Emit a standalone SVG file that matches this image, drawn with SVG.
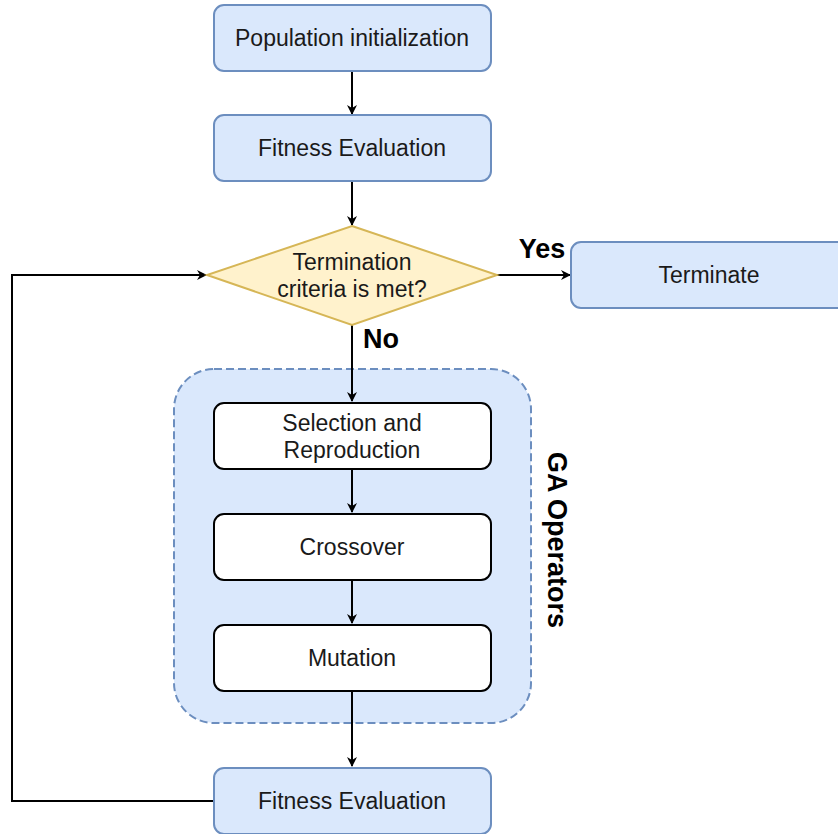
<svg xmlns="http://www.w3.org/2000/svg" width="838" height="834" viewBox="0 0 838 834">
<defs>
<marker id="arr" viewBox="0 0 10 10" refX="9" refY="5" markerWidth="10" markerHeight="10" markerUnits="userSpaceOnUse" orient="auto">
<path d="M0,0 L10,5 L0,10 L3,5 Z" fill="#000"/>
</marker>
<style>
.blue{fill:#dae8fc;stroke:#6c8ebf;stroke-width:2}
.white{fill:#fff;stroke:#000;stroke-width:2}
.t{font-family:"Liberation Sans",Arial,sans-serif;font-size:23px;fill:#1a1a1a;text-anchor:middle;dominant-baseline:central}
.b{font-family:"Liberation Sans",Arial,sans-serif;font-size:27px;font-weight:bold;fill:#000;text-anchor:middle;dominant-baseline:central}
.c{fill:none;stroke:#000;stroke-width:2;marker-end:url(#arr)}
</style>
</defs>
<rect width="838" height="834" fill="#fff"/>
<g id="ga-group">
<rect x="174" y="369" width="357" height="354" rx="40" fill="#dae8fc" stroke="#6c8ebf" stroke-width="2" stroke-dasharray="8,4"/>
<text class="b" transform="translate(557,540) rotate(90)">GA Operators</text>
</g>
<g id="connectors">
<path class="c" d="M352,71 V114"/>
<path class="c" d="M352,181 V225"/>
<path class="c" d="M497,275 H570"/>
<path class="c" d="M352,325 V401"/>
<path class="c" d="M352,469 V512"/>
<path class="c" d="M352,580 V623"/>
<path class="c" d="M352,691 V766"/>
<path class="c" d="M214,801 H12 V275 H206"/>
<text class="b" x="542" y="249">Yes</text>
<text class="b" x="381" y="339">No</text>
</g>
<g id="pop-init">
<rect class="blue" x="214" y="5" width="277" height="66" rx="10"/>
<text class="t" x="352" y="38">Population initialization</text>
</g>
<g id="fitness1">
<rect class="blue" x="214" y="115" width="277" height="66" rx="10"/>
<text class="t" x="352" y="148">Fitness Evaluation</text>
</g>
<g id="decision">
<path d="M352,226 L497,275 L352,325 L207,275 Z" fill="#fff2cc" stroke="#d6b656" stroke-width="2"/>
<text class="t" x="352" y="262">Termination</text>
<text class="t" x="352" y="289">criteria is met?</text>
</g>
<g id="terminate">
<rect class="blue" x="571" y="242" width="277" height="66" rx="10"/>
<text class="t" x="709" y="275">Terminate</text>
</g>
<g id="selection">
<rect class="white" x="214" y="403" width="277" height="66" rx="10"/>
<text class="t" x="352" y="423">Selection and</text>
<text class="t" x="352" y="450">Reproduction</text>
</g>
<g id="crossover">
<rect class="white" x="214" y="514" width="277" height="66" rx="10"/>
<text class="t" x="352" y="547">Crossover</text>
</g>
<g id="mutation">
<rect class="white" x="214" y="625" width="277" height="66" rx="10"/>
<text class="t" x="352" y="658">Mutation</text>
</g>
<g id="fitness2">
<rect class="blue" x="214" y="768" width="277" height="66" rx="10"/>
<text class="t" x="352" y="801">Fitness Evaluation</text>
</g>
</svg>
